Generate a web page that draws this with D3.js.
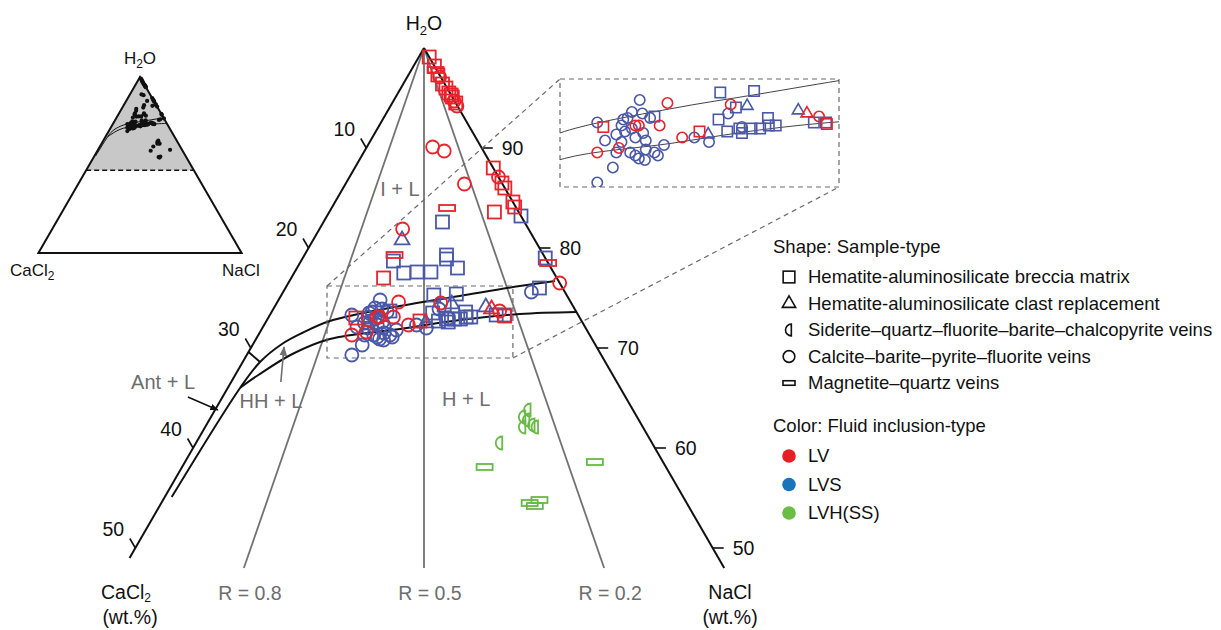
<!DOCTYPE html>
<html>
<head>
<meta charset="utf-8">
<script src="https://cdn.jsdelivr.net/npm/d3@7"></script>
<style>
  body { margin: 0; background: #fff; }
  text { font-family: "Liberation Sans", Arial, sans-serif; }
</style>
</head>
<body>
<svg id="chart" width="1221" height="630"></svg>
<script>
// points are [NaCl wt.%, CaCl2 wt.%], H2O is the rest
var brecciaLV = [[0.9,0],[1.8,0],[2.55,0.15],[3.4,0.2],[3.9,0.1],[4.4,0.1],[4.7,0],[4.9,0],[5.5,0],
  [12.0,0],[13.5,0],[14.0,0],[15.4,0],[15.8,0.1],[14.3,2.1],[8.0,15.0],[7.6,19.4],[13.3,14.0],[20.4,6.4]];
var brecciaLVS = [[16.8,0],[10.3,7.1],[8.0,13.3],[9.5,13.0],[10.6,11.8],[11.8,10.6],[12.3,8.4],[12.5,8.6],
  [13.9,8.1],[21.0,0],[22.0,2.0],[10.2,16.1],[13.2,11.5],[15.1,9.5],[14.6,11.1],[14.0,12.5],[14.9,12.4],
  [15.5,11.6],[15.8,11.6],[16.2,10.9],[16.7,10.4],[16.8,9.6],[17.1,9.8],[17.5,9.4],[19.6,7.1],[20.3,6.4]];
var clastLV = [[18.9,7.2]];
var clastLVS = [[7.7,11.5],[13.9,13.6],[15.2,10.4],[18.3,7.6]];
var calciteLV = [[2.8,0.1],[5.25,0.05],[5.75,0.05],[5.7,4.2],[6.9,3.4],[10.3,3.3],[12.9,0],[7.2,10.9],
  [23.5,0],[8.1,20.6],[9.2,19.2],[9.4,17.5],[9.6,17.3],[10.8,16.1],[10.5,14.9],[12.5,15.2],[14.2,11.3],[19.7,6.6]];
var calciteLVS = [[21.5,2.9],[9.1,21.6],[9.5,20.2],[8.15,19.75],[7.1,19.6],[8.6,18.9],[8.6,18.3],[8.7,17.7],
  [8.75,17.25],[9.0,18.3],[9.8,17.9],[10.1,17.3],[10.0,18.7],[10.7,18.4],[10.8,17.7],[11.4,17.3],[11.7,16.5],
  [10.5,17.4],[10.0,16.4],[9.4,16.7],[8.8,16.4],[13.2,14.5],[14.2,13.8],[14.35,11.75],[15.6,11.4],[9.2,19.5],
  [10.4,18.5],[11.7,17.2],[8.5,18.0],[9.3,17.8],[11.1,18.1],[9.15,18.85]];
var magnetiteLV = [[2.1,0.1],[10.0,6.0],[7.8,12.9],[21.5,0]];
var magnetiteLVH = [[26.2,15.7],[35.5,5.9],[32.6,12.6],[31.9,13.6],[32.5,13.3]];
var sideriteLVH = [[27.1,9.1],[27.0,9.9],[27.5,9.7],[28.2,9.5],[27.5,10.4],[28.6,9.3],[26.3,13.2]];

// phase boundaries
var upperBoundary = [[0.6,44.3],[1.07,32.9],[1.5,29.9],[2.5,27.1],[3.7,24.8],[5.5,21.8],[10.8,15.0],[15.5,9.3],[20.2,3.6],[23.0,0.3]];
var lowerBoundary = [[1.07,32.9],[2.0,30.7],[3.9,26.7],[6.4,22.7],[12.0,16.1],[16.7,10.5],[21.6,5.0],[26.4,0]];
var bracketLine = [[0,30.4],[1.5,29.9]];

var leftTicks = [10, 20, 30, 40, 50];   // CaCl2 wt.%
var rightTicks = [90, 80, 70, 60, 50];  // H2O wt.%
var ratioLines = [0.8, 0.5, 0.2];

var fieldLabels = ["I + L", "H + L", "HH + L", "Ant + L"];
var fieldNaCl = [4.97, 21.2, 4.4, -5.9];
var fieldCaCl2 = [9.13, 13.9, 30.9, 39.3];
var antArrow = [[-3.0,37.9],[0.25,35.95]];
var hhArrow = [[4.3,29.1],[2.83,27.07]];

var shapeNames = ["Hematite-aluminosilicate breccia matrix", "Hematite-aluminosilicate clast replacement",
  "Siderite\u2013quartz\u2013fluorite\u2013barite\u2013chalcopyrite veins", "Calcite\u2013barite\u2013pyrite\u2013fluorite veins",
  "Magnetite\u2013quartz veins"];
var shapeKeys = ["square", "triangle", "half", "circle", "bar"];
var fluidNames = ["LV", "LVS", "LVH(SS)"];

var markColor = { LV: "#e8232b", LVS: "#4a58a8", LVH: "#69b946" };
var legendColor = { LV: "#e41f26", LVS: "#1a74bc", LVH: "#6abd45" };

var groups = [
  { pts: calciteLVS, shape: "circle", fluid: "LVS" },
  { pts: brecciaLVS, shape: "square", fluid: "LVS" },
  { pts: clastLVS, shape: "triangle", fluid: "LVS" },
  { pts: brecciaLV, shape: "square", fluid: "LV" },
  { pts: calciteLV, shape: "circle", fluid: "LV" },
  { pts: magnetiteLV, shape: "bar", fluid: "LV" },
  { pts: clastLV, shape: "triangle", fluid: "LV" },
  { pts: sideriteLVH, shape: "half", fluid: "LVH" },
  { pts: magnetiteLVH, shape: "bar", fluid: "LVH" }
];

var svg = d3.select("#chart");
var defs = svg.append("defs");

// main ternary scales: vertical = total salt, horizontal = NaCl - CaCl2
var sy = d3.scaleLinear().domain([0, 100]).range([48, 1048]);
var sx = d3.scaleLinear().domain([-100, 100]).range([424 - 577.35, 424 + 577.35]);
function px(d) { return sx(d[0] - d[1]); }
function py(d) { return sy(d[0] + d[1]); }

// small overview triangle
var ty = d3.scaleLinear().domain([0, 100]).range([77, 253]);
var tx = d3.scaleLinear().domain([-100, 100]).range([140 - 101.6, 140 + 101.6]);
function qx(d) { return tx(d[0] - d[1]); }
function qy(d) { return ty(d[0] + d[1]); }

// zoom window (NaCl-CaCl2 range, salt range) and enlarged inset
var zoomD = [-16.8, 15.4], zoomS = [23.8, 31.0];
var ix = d3.scaleLinear().domain(zoomD).range([560, 839]);
var iy = d3.scaleLinear().domain(zoomS).range([79, 187]);
function zx(d) { return ix(d[0] - d[1]); }
function zy(d) { return iy(d[0] + d[1]); }

function marker(g, shape, color, x, y, k, sw) {
  var el;
  if (shape === "circle") {
    el = g.append("circle").attr("cx", x).attr("cy", y).attr("r", 6.5 * k);
  } else if (shape === "square") {
    el = g.append("rect").attr("x", x - 6.5 * k).attr("y", y - 6.5 * k).attr("width", 13 * k).attr("height", 13 * k);
  } else if (shape === "triangle") {
    el = g.append("path").attr("d", d3.symbol(d3.symbolTriangle, 95 * k * k)())
      .attr("transform", "translate(" + x + "," + y + ")");
  } else if (shape === "half") {
    var r = 6.5 * k;
    el = g.append("path").attr("d", "M" + (r * 0.4) + "," + (-r) + "A" + r + "," + r + " 0 0 0 " + (r * 0.4) + "," + r + "Z")
      .attr("transform", "translate(" + x + "," + y + ")");
  } else {
    el = g.append("rect").attr("x", x - 8 * k).attr("y", y - 3 * k).attr("width", 16 * k).attr("height", 6 * k);
  }
  el.attr("fill", "none").attr("stroke", color).attr("stroke-width", sw);
  return el;
}

// ---------- small overview triangle ----------
var ov = svg.append("g");
ov.append("path")
  .attr("d", d3.line()([[qx([0,0]), qy([0,0])], [qx([0,53]), qy([0,53])], [qx([53,0]), qy([53,0])]]) + "Z")
  .attr("fill", "#c8c8c8");
ov.append("line")
  .attr("x1", qx([0,53])).attr("y1", qy([0,53])).attr("x2", qx([53,0])).attr("y2", qy([53,0]))
  .attr("stroke", "#111").attr("stroke-width", 1.5).attr("stroke-dasharray", "5,3");
ov.append("path")
  .attr("d", d3.line()([[qx([0,0]), qy([0,0])], [qx([0,100]), qy([0,100])], [qx([100,0]), qy([100,0])]]) + "Z")
  .attr("fill", "none").attr("stroke", "#111").attr("stroke-width", 2).attr("stroke-linejoin", "miter");
var ovLine = d3.line().x(qx).y(qy).curve(d3.curveCatmullRom);
ov.append("path").attr("d", ovLine(upperBoundary)).attr("fill", "none").attr("stroke", "#111").attr("stroke-width", 1);
ov.append("path").attr("d", ovLine(lowerBoundary)).attr("fill", "none").attr("stroke", "#111").attr("stroke-width", 1);
groups.forEach(function (gr) {
  gr.pts.forEach(function (d) {
    ov.append("circle").attr("cx", qx(d)).attr("cy", qy(d)).attr("r", 2.1).attr("fill", "#111");
  });
});
var t1 = ov.append("text").attr("x", 140).attr("y", 64).attr("text-anchor", "middle").attr("font-size", 17).attr("fill", "#111");
t1.append("tspan").text("H");
t1.append("tspan").attr("font-size", 12).attr("dy", 4).text("2");
t1.append("tspan").attr("dy", -4).text("O");
var t2 = ov.append("text").attr("x", 10).attr("y", 276).attr("font-size", 17).attr("fill", "#111");
t2.append("tspan").text("CaCl");
t2.append("tspan").attr("font-size", 12).attr("dy", 4).text("2");
ov.append("text").attr("x", 241).attr("y", 276).attr("text-anchor", "middle").attr("font-size", 17).attr("fill", "#111").text("NaCl");

// ---------- main ternary ----------
var main = svg.append("g");

// R = CaCl2/(CaCl2+NaCl) lines
ratioLines.forEach(function (r) {
  var end = [52 * (1 - r), 52 * r];
  main.append("line")
    .attr("x1", px([0,0])).attr("y1", py([0,0])).attr("x2", px(end)).attr("y2", py(end))
    .attr("stroke", "#727272").attr("stroke-width", 1.8);
  main.append("text").attr("x", px(end) + 6).attr("y", 600).attr("text-anchor", "middle")
    .attr("font-size", 19.5).attr("fill", "#6d6d6d").text("R = " + r.toFixed(1));
});

// edges
main.append("line").attr("x1", px([0,0])).attr("y1", py([0,0])).attr("x2", px([0,51])).attr("y2", py([0,51]))
  .attr("stroke", "#111").attr("stroke-width", 2);
main.append("line").attr("x1", px([0,0])).attr("y1", py([0,0])).attr("x2", px([52,0])).attr("y2", py([52,0]))
  .attr("stroke", "#111").attr("stroke-width", 2);

// left ticks (CaCl2)
leftTicks.forEach(function (v) {
  var x0 = px([0, v]), y0 = py([0, v]);
  main.append("line").attr("x1", x0).attr("y1", y0).attr("x2", x0 - 5.5).attr("y2", y0 - 9.5)
    .attr("stroke", "#111").attr("stroke-width", 1.6);
  main.append("text").attr("x", x0 - 22).attr("y", y0 - 19).attr("dy", "0.35em").attr("text-anchor", "middle")
    .attr("font-size", 19.5).attr("fill", "#111").text(v);
});
// right ticks (H2O)
rightTicks.forEach(function (v) {
  var s = 100 - v, x0 = px([s, 0]), y0 = py([s, 0]);
  main.append("line").attr("x1", x0).attr("y1", y0).attr("x2", x0 + 11).attr("y2", y0)
    .attr("stroke", "#111").attr("stroke-width", 1.6);
  main.append("text").attr("x", x0 + 20).attr("y", y0).attr("dy", "0.35em")
    .attr("font-size", 19.5).attr("fill", "#111").text(v);
});

// phase boundaries
var mainLine = d3.line().x(px).y(py).curve(d3.curveCatmullRom);
main.append("path").attr("d", mainLine(upperBoundary)).attr("fill", "none").attr("stroke", "#111").attr("stroke-width", 2);
main.append("path").attr("d", mainLine(lowerBoundary)).attr("fill", "none").attr("stroke", "#111").attr("stroke-width", 2);
main.append("path").attr("d", d3.line().x(px).y(py)(bracketLine)).attr("fill", "none").attr("stroke", "#111").attr("stroke-width", 2);

// field labels and arrows
fieldLabels.forEach(function (t, i) {
  var d = [fieldNaCl[i], fieldCaCl2[i]];
  main.append("text").attr("x", px(d)).attr("y", py(d)).attr("dy", "0.35em").attr("text-anchor", "middle")
    .attr("font-size", 20).attr("fill", "#6d6d6d").text(t);
});
[["ahB", "#111"], ["ahG", "#707070"]].forEach(function (m) {
  defs.append("marker").attr("id", m[0]).attr("viewBox", "0 0 10 10").attr("refX", 9).attr("refY", 5)
    .attr("markerWidth", 6).attr("markerHeight", 6).attr("orient", "auto")
    .append("path").attr("d", "M0,1L10,5L0,9Z").attr("fill", m[1]);
});
main.append("line").attr("x1", px(antArrow[0])).attr("y1", py(antArrow[0])).attr("x2", px(antArrow[1])).attr("y2", py(antArrow[1]))
  .attr("stroke", "#111").attr("stroke-width", 1.4).attr("marker-end", "url(#ahB)");
main.append("line").attr("x1", px(hhArrow[0])).attr("y1", py(hhArrow[0])).attr("x2", px(hhArrow[1])).attr("y2", py(hhArrow[1]))
  .attr("stroke", "#707070").attr("stroke-width", 1.6).attr("marker-end", "url(#ahG)");

// data markers
var pts = main.append("g");
groups.forEach(function (gr) {
  gr.pts.forEach(function (d) { marker(pts, gr.shape, markColor[gr.fluid], px(d), py(d), 1, 1.8); });
});

// titles
var apexLabel = main.append("text").attr("x", 424).attr("y", 30).attr("text-anchor", "middle").attr("font-size", 19.5).attr("fill", "#111");
apexLabel.append("tspan").text("H");
apexLabel.append("tspan").attr("font-size", 13).attr("dy", 5).text("2");
apexLabel.append("tspan").attr("dy", -5).text("O");
var cal = main.append("text").attr("x", 126).attr("y", 599).attr("text-anchor", "middle").attr("font-size", 19.5).attr("fill", "#111");
cal.append("tspan").text("CaCl");
cal.append("tspan").attr("font-size", 12).attr("dy", 3).text("2");
main.append("text").attr("x", 130).attr("y", 624).attr("text-anchor", "middle").attr("font-size", 19.5).attr("fill", "#111").text("(wt.%)");
main.append("text").attr("x", 730).attr("y", 599).attr("text-anchor", "middle").attr("font-size", 19.5).attr("fill", "#111").text("NaCl");
main.append("text").attr("x", 730).attr("y", 624).attr("text-anchor", "middle").attr("font-size", 19.5).attr("fill", "#111").text("(wt.%)");

// ---------- zoom box and inset ----------
var bx0 = sx(zoomD[0]), bx1 = sx(zoomD[1]), by0 = sy(zoomS[0]), by1 = sy(zoomS[1]);
var dash = { stroke: "#6a6a6a", w: 1.2, a: "5,4" };
main.append("rect").attr("x", bx0).attr("y", by0).attr("width", bx1 - bx0).attr("height", by1 - by0)
  .attr("fill", "none").attr("stroke", dash.stroke).attr("stroke-width", dash.w).attr("stroke-dasharray", dash.a);
main.append("line").attr("x1", bx0).attr("y1", by0).attr("x2", ix.range()[0]).attr("y2", iy.range()[0])
  .attr("stroke", dash.stroke).attr("stroke-width", dash.w).attr("stroke-dasharray", dash.a);
main.append("line").attr("x1", bx1).attr("y1", by1).attr("x2", ix.range()[1]).attr("y2", iy.range()[1])
  .attr("stroke", dash.stroke).attr("stroke-width", dash.w).attr("stroke-dasharray", dash.a);

var inset = svg.append("g");
inset.append("rect").attr("x", ix.range()[0]).attr("y", iy.range()[0])
  .attr("width", ix.range()[1] - ix.range()[0]).attr("height", iy.range()[1] - iy.range()[0])
  .attr("fill", "#fff").attr("stroke", dash.stroke).attr("stroke-width", dash.w).attr("stroke-dasharray", dash.a);
defs.append("clipPath").attr("id", "insetClip").append("rect")
  .attr("x", ix.range()[0]).attr("y", iy.range()[0])
  .attr("width", ix.range()[1] - ix.range()[0]).attr("height", iy.range()[1] - iy.range()[0]);
var inner = inset.append("g").attr("clip-path", "url(#insetClip)");
var insetLine = d3.line().x(zx).y(zy).curve(d3.curveCatmullRom);
inner.append("path").attr("d", insetLine(upperBoundary)).attr("fill", "none").attr("stroke", "#444").attr("stroke-width", 1);
inner.append("path").attr("d", insetLine(lowerBoundary)).attr("fill", "none").attr("stroke", "#444").attr("stroke-width", 1);
groups.forEach(function (gr) {
  gr.pts.forEach(function (d) {
    var s = d[0] + d[1], dd = d[0] - d[1];
    if (s < zoomS[0] - 1 || s > zoomS[1] + 1 || dd < zoomD[0] - 1 || dd > zoomD[1] + 1) return;
    marker(inner, gr.shape, markColor[gr.fluid], zx(d), zy(d), 0.8, 1.6);
  });
});

// ---------- legend ----------
var lg = svg.append("g");
lg.append("text").attr("x", 773).attr("y", 247).attr("dy", "0.35em").attr("font-size", 18.5).attr("fill", "#111").text("Shape: Sample-type");
shapeNames.forEach(function (name, i) {
  var y = 277 + i * 26.5;
  marker(lg, shapeKeys[i], "#111", 789, y, shapeKeys[i] === "bar" ? 0.75 : 0.9, 1.6);
  lg.append("text").attr("x", 808).attr("y", y).attr("dy", "0.35em").attr("font-size", 18.5).attr("fill", "#111").text(name);
});
lg.append("text").attr("x", 773).attr("y", 426).attr("dy", "0.35em").attr("font-size", 18.5).attr("fill", "#111").text("Color: Fluid inclusion-type");
fluidNames.forEach(function (name, i) {
  var y = 456 + i * 28.5;
  lg.append("circle").attr("cx", 789).attr("cy", y).attr("r", 6.8).attr("fill", legendColor[["LV", "LVS", "LVH"][i]]);
  lg.append("text").attr("x", 808).attr("y", y).attr("dy", "0.35em").attr("font-size", 18.5).attr("fill", "#111").text(name);
});
</script>
</body>
</html>
